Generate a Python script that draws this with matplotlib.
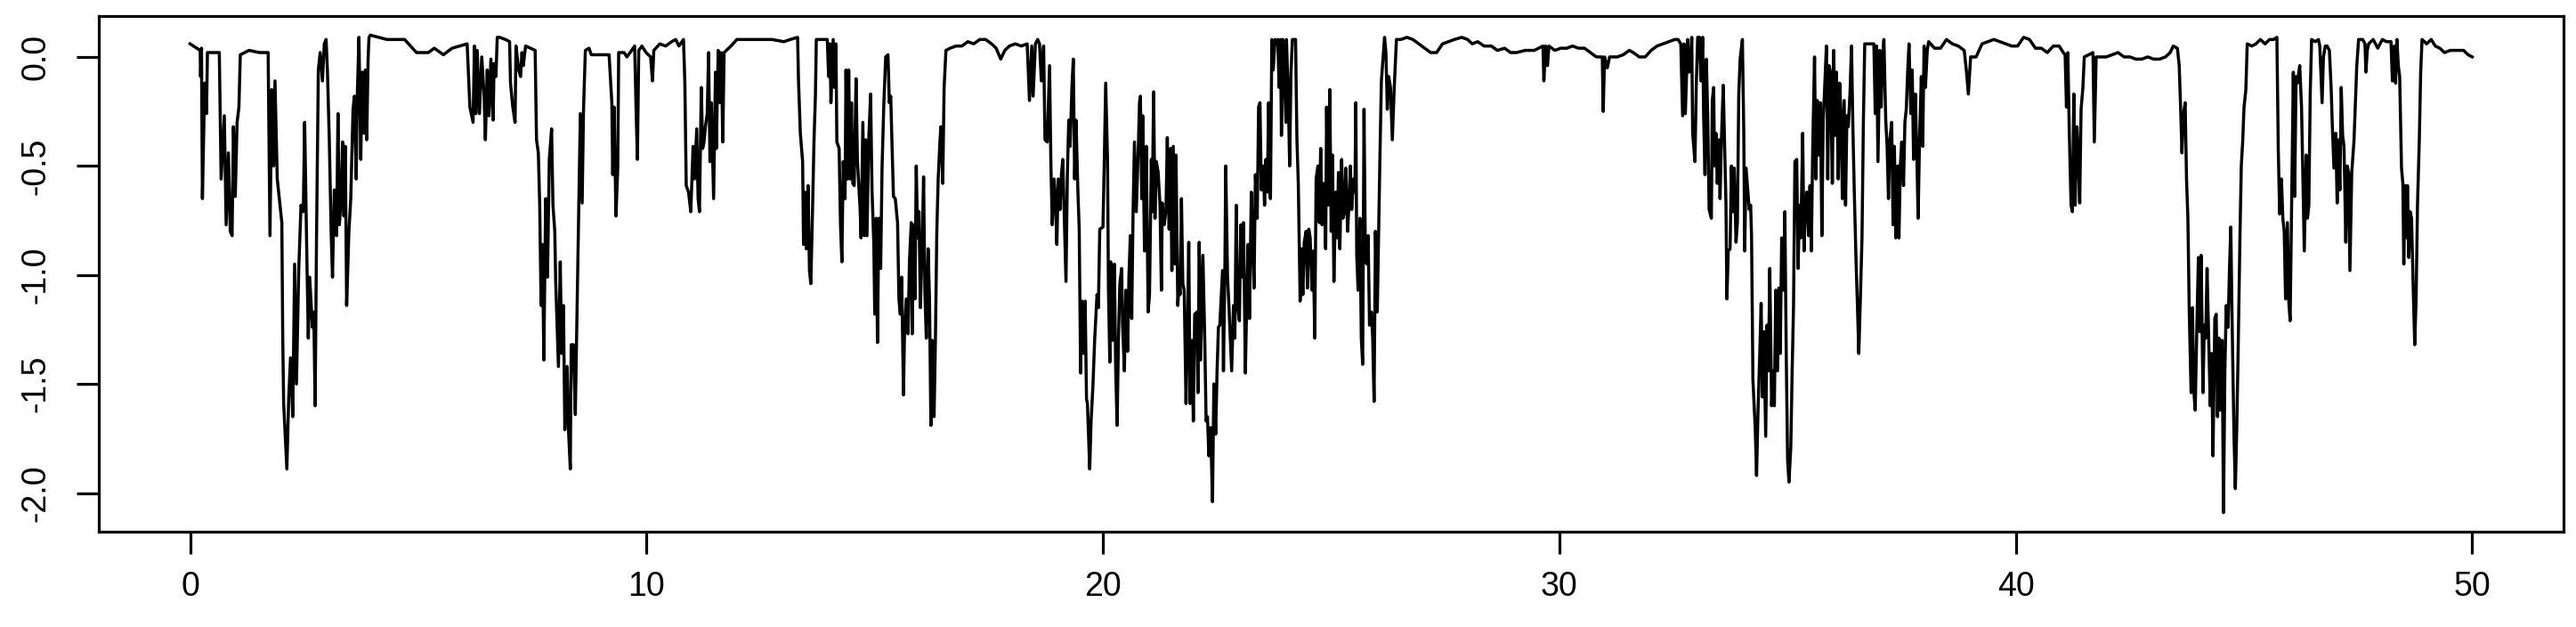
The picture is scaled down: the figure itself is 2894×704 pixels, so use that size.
import numpy as np
import matplotlib
matplotlib.use('Agg')
import matplotlib.pyplot as plt

plt.rcParams['font.family'] = ['Liberation Sans', 'DejaVu Sans']

# series, stretch by stretch (time, value)
tA = [0.00, 0.22, 0.23, 0.25, 0.27, 0.32, 0.36, 0.38, 0.50, 0.64,
      0.68, 0.75, 0.79, 0.84, 0.88, 0.92, 0.95, 0.99, 1.03, 1.07,
      1.10, 1.29, 1.52, 1.71, 1.75, 1.79, 1.83, 1.86, 1.91, 2.01,
      2.03, 2.05, 2.12, 2.16, 2.20, 2.25, 2.29, 2.33, 2.38, 2.43,
      2.48, 2.51, 2.56, 2.59, 2.62, 2.68, 2.71, 2.74, 2.77, 2.81,
      2.85, 2.90, 2.94, 2.98, 3.01, 3.05, 3.09, 3.12, 3.16, 3.21,
      3.24, 3.27, 3.31, 3.34, 3.37, 3.40, 3.43, 3.48, 3.52, 3.57,
      3.60, 3.64, 3.66, 3.70, 3.74, 3.77, 3.81, 3.84, 3.87, 3.90,
      3.92, 3.95, 4.31, 4.70, 4.83, 4.96, 5.22, 5.35, 5.55, 5.74,
      6.07, 6.13, 6.20, 6.23, 6.26, 6.29, 6.34, 6.39, 6.44, 6.47,
      6.51, 6.55, 6.59, 6.64, 6.66, 6.70, 6.73]
vA = [0.06, 0.03, -0.09, 0.04, -0.65, -0.12, -0.26, 0.02, 0.02, 0.02,
      -0.56, -0.27, -0.77, -0.44, -0.80, -0.82, -0.32, -0.64, -0.30, -0.23,
      0.01, 0.03, 0.02, 0.02, -0.82, -0.15, -0.50, -0.11, -0.56, -0.76,
      -1.29, -1.59, -1.89, -1.57, -1.38, -1.65, -0.95, -1.50, -0.98, -0.68,
      -0.71, -0.30, -0.94, -1.29, -1.01, -1.24, -1.17, -1.60, -0.83, -0.06,
      0.02, -0.11, 0.06, 0.08, -0.07, -0.38, -0.80, -1.01, -0.61, -0.82,
      -0.26, -0.77, -0.65, -0.39, -0.73, -0.41, -1.14, -0.80, -0.65, -0.24,
      -0.18, -0.56, -0.20, 0.09, -0.47, -0.07, -0.35, -0.06, -0.38, -0.01,
      0.09, 0.10, 0.08, 0.08, 0.05, 0.02, 0.02, 0.04, 0.01, 0.04,
      0.06, -0.23, -0.30, 0.05, -0.26, 0.03, -0.26, 0.00, -0.17, -0.38,
      -0.06, -0.27, -0.01, -0.29, -0.03, -0.09, 0.09]

tB = [6.78, 6.91, 7.00, 7.02, 7.07, 7.12, 7.14, 7.20, 7.24, 7.27,
      7.30, 7.35, 7.46, 7.56, 7.59, 7.63, 7.66, 7.69, 7.72, 7.75,
      7.79, 7.83, 7.87, 7.92, 7.95, 7.99, 8.01, 8.07, 8.11, 8.14,
      8.18, 8.21, 8.26, 8.29, 8.33, 8.35, 8.40, 8.44, 8.48, 8.52,
      8.55, 8.59, 8.62, 8.66, 8.74, 8.79, 8.99, 9.18, 9.24, 9.26,
      9.29, 9.33, 9.37, 9.39, 9.51, 9.57, 9.64, 9.74, 9.77, 9.80,
      9.83, 9.90, 9.99, 10.09, 10.13, 10.16, 10.29, 10.42, 10.55, 10.64,
      10.71, 10.81, 10.84, 10.87, 10.92, 10.97, 11.02, 11.05, 11.10, 11.13,
      11.16, 11.20, 11.23, 11.26, 11.29, 11.33, 11.36, 11.39, 11.42, 11.47,
      11.51, 11.53, 11.57, 11.61, 11.64, 11.67, 11.70, 11.75, 11.85, 11.98,
      12.24, 12.50, 12.75, 13.01]
vB = [0.09, 0.08, 0.07, -0.12, -0.23, -0.30, 0.05, -0.06, -0.09, 0.02,
      -0.04, 0.05, 0.04, 0.03, -0.38, -0.44, -0.68, -1.14, -0.86, -1.39,
      -0.65, -1.01, -0.47, -0.33, -0.68, -0.80, -1.03, -1.42, -0.94, -1.36,
      -1.14, -1.71, -1.42, -1.71, -1.89, -1.32, -1.32, -1.64, -1.14, -0.65,
      -0.26, -0.67, -0.24, 0.03, 0.04, 0.01, 0.01, 0.01, -0.21, -0.54,
      -0.23, -0.73, -0.51, 0.02, 0.02, 0.00, 0.02, 0.05, -0.23, -0.47,
      0.03, 0.05, 0.02, 0.00, -0.11, 0.03, 0.06, 0.05, 0.07, 0.08,
      0.05, 0.08, -0.12, -0.59, -0.62, -0.71, -0.41, -0.56, -0.33, -0.65,
      -0.71, -0.14, -0.42, -0.39, -0.32, -0.26, 0.02, -0.48, -0.21, -0.65,
      -0.07, -0.42, 0.03, -0.21, 0.02, -0.39, 0.02, 0.03, 0.05, 0.08,
      0.08, 0.08, 0.08, 0.07]

tC = [13.15, 13.31, 13.33, 13.37, 13.42, 13.44, 13.47, 13.50, 13.54, 13.57,
      13.60, 13.63, 13.67, 13.70, 13.72, 13.86, 13.96, 13.99, 14.02, 14.04,
      14.09, 14.12, 14.15, 14.17, 14.22, 14.25, 14.28, 14.31, 14.35, 14.37,
      14.40, 14.43, 14.46, 14.49, 14.52, 14.55, 14.59, 14.62, 14.65, 14.68,
      14.70, 14.74, 14.77, 14.80, 14.83, 14.87, 14.91, 14.94, 14.98, 15.00,
      15.03, 15.06, 15.09, 15.13, 15.16, 15.20, 15.24, 15.29, 15.32, 15.35,
      15.41, 15.45, 15.50, 15.53, 15.56, 15.59, 15.63, 15.65, 15.69, 15.73,
      15.76, 15.80, 15.82, 15.85, 15.88, 15.91, 15.94, 15.97, 16.00, 16.04,
      16.07, 16.10, 16.13, 16.17, 16.20, 16.23, 16.26, 16.30, 16.33, 16.36,
      16.39, 16.43, 16.45, 16.49, 16.52, 16.56, 16.65, 16.78, 16.91, 17.04,
      17.17, 17.30, 17.43, 17.56, 17.66, 17.76, 17.85, 17.95, 18.08, 18.21,
      18.34, 18.39, 18.44, 18.47, 18.52, 18.57, 18.61, 18.65, 18.70, 18.73,
      18.78, 18.83, 18.86, 18.89, 18.93, 18.96, 18.99, 19.02, 19.06, 19.09,
      19.12, 19.15, 19.19, 19.22, 19.25, 19.28, 19.32, 19.35, 19.38, 19.41,
      19.45, 19.48, 19.51, 19.54, 19.58, 19.61, 19.64]
vC = [0.08, 0.09, -0.11, -0.35, -0.48, -0.86, -0.62, -0.88, -0.59, -0.98,
      -1.04, -0.77, -0.38, -0.18, 0.08, 0.08, 0.08, -0.09, 0.06, -0.21,
      0.08, -0.14, 0.06, -0.39, -0.42, -0.77, -0.94, -0.48, -0.65, -0.06,
      -0.56, -0.06, -0.56, -0.21, -0.58, -0.59, -0.10, -0.47, -0.59, -0.70,
      -0.83, -0.30, -0.82, -0.38, -0.82, -0.37, -0.17, -0.61, -0.86, -1.18,
      -0.74, -1.31, -0.74, -0.97, -0.51, -0.21, 0.00, 0.01, -0.21, -0.18,
      -0.64, -0.65, -0.76, -1.11, -1.18, -1.01, -1.55, -1.29, -1.11, -1.27,
      -0.94, -0.76, -1.27, -0.77, -1.11, -0.50, -0.83, -0.71, -1.15, -0.86,
      -0.55, -1.09, -1.29, -0.88, -1.11, -1.69, -1.30, -1.65, -1.29, -0.80,
      -0.56, -0.38, -0.32, -0.58, -0.14, 0.03, 0.04, 0.05, 0.05, 0.07,
      0.06, 0.08, 0.08, 0.06, 0.04, -0.01, 0.03, 0.05, 0.06, 0.05,
      0.06, -0.20, 0.05, -0.18, 0.06, 0.08, 0.06, -0.11, 0.05, -0.38,
      -0.39, -0.04, -0.50, -0.77, -0.56, -0.65, -0.86, -0.56, -0.70, -0.54,
      -0.47, -0.71, -1.03, -0.54, -0.29, -0.41, -0.14, -0.01, -0.56, -0.29,
      -0.61, -0.79, -1.45, -1.12, -1.36, -1.12, -1.57]

tD = [19.66, 19.71, 19.74, 19.78, 19.82, 19.87, 19.90, 19.93, 20.00, 20.03,
      20.06, 20.10, 20.12, 20.15, 20.17, 20.21, 20.25, 20.28, 20.31, 20.34,
      20.37, 20.41, 20.43, 20.47, 20.50, 20.54, 20.57, 20.60, 20.63, 20.66,
      20.69, 20.73, 20.78, 20.80, 20.82, 20.85, 20.87, 20.91, 20.95, 20.99,
      21.02, 21.06, 21.08, 21.11, 21.14, 21.17, 21.21, 21.25, 21.28, 21.30,
      21.34, 21.38, 21.41, 21.45, 21.48, 21.51, 21.54, 21.58, 21.60, 21.64,
      21.67, 21.69, 21.72, 21.75, 21.78, 21.82, 21.85, 21.88, 21.91, 21.95,
      21.98, 22.01, 22.06, 22.08, 22.11, 22.14, 22.19, 22.23, 22.26, 22.29,
      22.32, 22.36, 22.40, 22.43, 22.47, 22.50, 22.53, 22.56, 22.62, 22.64,
      22.67, 22.69, 22.73, 22.76, 22.79, 22.82, 22.86, 22.89, 22.92, 22.95,
      22.99, 23.02, 23.05, 23.08, 23.12, 23.15, 23.18, 23.21, 23.25, 23.28,
      23.31, 23.34, 23.38, 23.41, 23.44, 23.47, 23.51, 23.54, 23.57, 23.60,
      23.63, 23.67, 23.70, 23.73, 23.77, 23.80, 23.83, 23.86, 23.89, 23.91,
      23.94, 23.98, 24.01, 24.02, 24.06, 24.09, 24.12, 24.15, 24.19, 24.22,
      24.25, 24.28, 24.32, 24.35, 24.38, 24.41, 24.45, 24.48, 24.51, 24.54,
      24.58, 24.61, 24.64, 24.67, 24.71, 24.74, 24.77, 24.80, 24.84, 24.88,
      24.90, 24.93, 24.97, 25.00, 25.03, 25.06, 25.10, 25.13, 25.16, 25.19,
      25.23, 25.26, 25.29, 25.32, 25.36, 25.39, 25.42, 25.45, 25.49, 25.52,
      25.54, 25.56, 25.59, 25.63, 25.66, 25.69, 25.72, 25.75, 25.78, 25.81,
      25.84, 25.88, 25.91, 25.94, 25.97, 26.01, 26.04, 26.07, 26.10, 26.17,
      26.20, 26.23, 26.26, 26.30, 26.34, 26.38, 26.43]
vD = [-1.59, -1.89, -1.67, -1.51, -1.29, -1.09, -1.15, -0.79, -0.78, -0.47,
      -0.12, -0.47, -1.06, -1.40, -0.94, -1.30, -0.95, -1.44, -1.69, -1.29,
      -1.04, -0.97, -1.23, -1.44, -1.07, -1.35, -1.00, -0.82, -1.20, -0.71,
      -0.39, -0.71, -0.38, -0.21, -0.18, -0.65, -0.27, -0.89, -0.41, -1.17,
      -1.09, -0.47, -0.71, -0.16, -0.74, -0.48, -0.53, -0.68, -1.07, -0.67,
      -0.77, -0.71, -0.37, -0.79, -0.42, -0.98, -0.41, -0.95, -0.45, -1.14,
      -1.03, -1.09, -0.65, -1.04, -1.07, -1.59, -1.27, -0.85, -1.59, -1.30,
      -1.67, -1.18, -1.17, -1.54, -0.85, -1.39, -0.91, -1.29, -1.67, -1.65,
      -1.83, -1.70, -2.04, -1.50, -1.73, -1.44, -1.24, -1.23, -0.98, -1.44,
      -1.00, -0.50, -1.01, -1.14, -1.29, -1.44, -1.14, -1.29, -0.68, -1.14,
      -1.21, -0.77, -1.01, -0.76, -1.45, -1.12, -0.86, -1.20, -0.62, -0.82,
      -1.06, -0.54, -0.74, -0.23, -0.21, -0.61, -0.50, -0.68, -0.47, -0.62,
      -0.21, -0.65, 0.08, -0.06, 0.08, 0.06, 0.08, -0.14, 0.08, -0.36,
      0.08, -0.12, -0.30, 0.08, -0.17, -0.50, -0.07, 0.08, 0.08, 0.08,
      -0.38, -0.58, -1.12, -0.88, -1.09, -0.85, -0.80, -1.06, -0.79, -0.83,
      -1.07, -0.89, -1.29, -0.56, -0.50, -0.76, -0.42, -0.77, -0.58, -0.88,
      -0.23, -0.68, -0.15, -0.80, -0.45, -1.03, -0.62, -0.83, -0.53, -0.88,
      -0.47, -0.74, -0.71, -0.51, -0.80, -0.68, -0.50, -0.70, -0.56, -0.62,
      -0.21, -0.91, -1.07, -0.74, -1.29, -1.41, -0.24, -0.92, -0.95, -0.82,
      -1.23, -1.17, -1.29, -1.58, -0.80, -1.17, -0.80, -0.44, -0.11, 0.09,
      0.02, -0.24, -0.09, -0.14, -0.38, -0.15, 0.08]

tE = [26.53, 26.66, 26.79, 26.92, 27.05, 27.18, 27.31, 27.44, 27.57, 27.70,
      27.86, 27.99, 28.09, 28.21, 28.35, 28.51, 28.64, 28.80, 28.93, 29.06,
      29.25, 29.45, 29.64, 29.66, 29.70, 29.74, 29.77, 29.90, 30.03, 30.16,
      30.29, 30.42, 30.55, 30.68, 30.81, 30.94, 30.96, 30.99, 31.05, 31.10,
      31.27, 31.40, 31.53, 31.62, 31.75, 31.88, 32.01, 32.14, 32.27, 32.40,
      32.53, 32.60, 32.66, 32.70, 32.73, 32.76, 32.81, 32.84, 32.87, 32.90,
      32.92, 32.97, 33.00, 33.03, 33.07, 33.10, 33.14, 33.16, 33.19, 33.22]
vE = [0.08, 0.09, 0.08, 0.06, 0.04, 0.02, 0.02, 0.06, 0.07, 0.08,
      0.09, 0.08, 0.06, 0.07, 0.05, 0.05, 0.03, 0.04, 0.02, 0.02,
      0.03, 0.03, 0.05, -0.11, 0.05, -0.04, 0.05, 0.03, 0.04, 0.04,
      0.05, 0.04, 0.04, 0.02, 0.00, 0.00, -0.25, 0.00, -0.05, 0.00,
      0.00, 0.01, 0.03, 0.02, 0.00, 0.00, 0.03, 0.05, 0.06, 0.07,
      0.08, 0.08, 0.06, -0.27, 0.06, -0.26, 0.08, -0.07, -0.04, 0.09,
      -0.35, -0.48, -0.12, 0.09, 0.09, -0.11, 0.09, -0.27, -0.54, -0.01]

tF = [33.25, 33.28, 33.33, 33.35, 33.38, 33.40, 33.43, 33.46, 33.50, 33.52,
      33.55, 33.59, 33.62, 33.65, 33.67, 33.70, 33.74, 33.77, 33.80, 33.83,
      33.87, 33.90, 33.93, 33.96, 34.01, 34.04, 34.06, 34.09, 34.13, 34.16,
      34.19, 34.21, 34.24, 34.29, 34.32, 34.35, 34.39, 34.42, 34.45, 34.48,
      34.52, 34.55, 34.58, 34.61, 34.65, 34.68, 34.71, 34.74, 34.78, 34.81,
      34.84, 34.87, 34.91, 34.94, 34.97, 35.00, 35.03, 35.07, 35.10, 35.13,
      35.16, 35.20, 35.23, 35.26, 35.29, 35.33, 35.36, 35.39, 35.42, 35.46,
      35.49, 35.52, 35.55, 35.59, 35.62, 35.65, 35.68, 35.72, 35.75, 35.78,
      35.81, 35.85, 35.88, 35.91, 35.94, 35.98, 36.01, 36.04, 36.07, 36.11,
      36.14, 36.17, 36.20, 36.24, 36.27, 36.30, 36.33, 36.37, 36.40, 36.43,
      36.46, 36.50, 36.53, 36.56, 36.59, 36.63, 36.66, 36.69, 36.79, 36.89,
      36.92, 36.95, 36.98, 37.02, 37.05, 37.08, 37.11, 37.15, 37.18, 37.21,
      37.24, 37.28, 37.31, 37.34, 37.37, 37.41, 37.44, 37.47, 37.50, 37.54,
      37.57, 37.60, 37.63, 37.66, 37.70, 37.73, 37.76, 37.80, 37.83, 37.86,
      37.89, 37.93, 37.96, 37.99, 38.02, 38.06, 38.09, 38.22, 38.35, 38.48,
      38.61, 38.74, 38.87, 38.92, 38.96, 39.01, 39.13, 39.26, 39.39, 39.52]
vF = [-0.27, -0.70, -0.74, -0.20, -0.14, -0.50, -0.35, -0.58, -0.38, -0.65,
      -0.38, -0.13, -0.41, -0.68, -1.11, -0.89, -0.88, -0.50, -0.71, -0.51,
      -0.85, -0.76, -0.17, -0.01, 0.08, -0.35, -0.89, -0.51, -0.62, -0.70,
      -0.68, -0.82, -1.48, -1.70, -1.92, -1.64, -1.36, -1.13, -1.56, -1.26,
      -1.74, -1.23, -1.44, -0.97, -1.60, -1.44, -1.60, -1.07, -1.44, -1.06,
      -1.36, -0.83, -1.07, -0.71, -1.36, -1.85, -1.95, -1.79, -1.44, -1.14,
      -0.48, -0.47, -0.97, -0.68, -0.83, -0.35, -0.89, -0.68, -0.62, -0.82,
      -0.59, -0.89, -0.42, 0.00, -0.56, -0.20, -0.45, -0.21, -0.82, -0.29,
      -0.15, 0.05, -0.56, -0.04, -0.07, -0.58, 0.03, -0.36, -0.07, -0.56,
      -0.12, -0.26, -0.65, -0.20, -0.68, -0.27, -0.32, -0.15, 0.05, -0.32,
      -0.61, -0.94, -1.14, -1.36, -1.14, -0.83, -0.30, 0.06, 0.06, 0.06,
      -0.26, 0.05, -0.48, 0.03, -0.23, -0.01, 0.08, -0.29, -0.41, -0.65,
      -0.38, -0.30, -0.77, -0.41, -0.83, -0.50, -0.83, -0.50, -0.39, -0.59,
      -0.30, -0.24, -0.07, 0.06, -0.26, -0.06, -0.47, -0.17, -0.44, -0.74,
      -0.38, -0.09, -0.41, 0.05, -0.14, 0.03, 0.07, 0.04, 0.04, 0.08,
      0.06, 0.05, 0.03, -0.07, -0.17, 0.00, 0.00, 0.06, 0.07, 0.08]

tG = [39.65, 39.78, 39.91, 40.04, 40.17, 40.30, 40.43, 40.56, 40.69, 40.82,
      40.95, 41.04, 41.08, 41.11, 41.14, 41.17, 41.21, 41.24, 41.27, 41.30,
      41.34, 41.37, 41.40, 41.43, 41.47, 41.50, 41.60, 41.69, 41.72, 41.76,
      41.85, 41.98, 42.11, 42.24, 42.37, 42.50, 42.63, 42.76, 42.89, 43.02,
      43.15, 43.28, 43.38, 43.45, 43.54, 43.58, 43.61, 43.64, 43.67, 43.71,
      43.74, 43.77, 43.80, 43.84, 43.87, 43.90, 43.93, 43.97, 44.00, 44.03,
      44.06, 44.10, 44.13, 44.16, 44.19, 44.23, 44.26, 44.29, 44.32, 44.36,
      44.39, 44.42, 44.45, 44.48, 44.52, 44.55, 44.58, 44.61, 44.65, 44.68,
      44.71, 44.74, 44.78, 44.81, 44.84, 44.87, 44.91, 44.94, 44.97, 45.00,
      45.04, 45.07, 45.17, 45.26, 45.36, 45.46, 45.56, 45.65, 45.72, 45.75,
      45.78, 45.82, 45.85, 45.88, 45.91, 45.95, 45.98, 46.01, 46.04, 46.08,
      46.11, 46.14]
vG = [0.07, 0.06, 0.05, 0.05, 0.09, 0.08, 0.04, 0.04, 0.02, 0.05,
      0.05, 0.02, 0.01, -0.23, 0.02, -0.33, -0.68, -0.71, -0.17, -0.68,
      -0.32, -0.47, -0.67, -0.24, -0.14, 0.00, 0.01, 0.02, -0.39, 0.00,
      0.00, 0.00, 0.01, 0.02, 0.00, 0.00, -0.01, -0.01, 0.00, -0.01,
      -0.01, 0.00, 0.02, 0.05, 0.04, -0.04, -0.23, -0.44, -0.27, -0.21,
      -0.56, -0.74, -1.17, -1.54, -1.15, -1.53, -1.62, -1.20, -0.92, -1.26,
      -0.91, -1.54, -1.23, -1.29, -0.97, -1.33, -1.60, -1.36, -1.83, -1.20,
      -1.18, -1.65, -1.29, -1.62, -1.30, -2.09, -1.44, -1.14, -1.24, -0.98,
      -0.78, -1.23, -1.74, -1.98, -1.71, -1.36, -0.83, -0.50, -0.39, -0.23,
      -0.15, 0.06, 0.05, 0.06, 0.08, 0.06, 0.08, 0.08, 0.09, -0.42,
      -0.72, -0.56, -0.74, -0.80, -1.11, -0.76, -1.12, -1.21, -0.71, -0.07,
      -0.64, -0.09]

tH = [46.17, 46.22, 46.26, 46.28, 46.32, 46.36, 46.39, 46.42, 46.45, 46.48,
      46.56, 46.63, 46.66, 46.71, 46.74, 46.78, 46.82, 46.87, 46.91, 46.93,
      46.97, 47.01, 47.04, 47.07, 47.10, 47.13, 47.16, 47.19, 47.23, 47.26,
      47.29, 47.32, 47.36, 47.41, 47.44, 47.47, 47.51, 47.60, 47.65, 47.67,
      47.70, 47.73, 47.83, 47.93, 48.03, 48.12, 48.22, 48.25, 48.29, 48.32,
      48.35, 48.38, 48.41, 48.45, 48.48, 48.50, 48.53, 48.56, 48.58, 48.61,
      48.64, 48.67, 48.71, 48.74, 48.77, 48.80, 48.84, 48.87, 48.90, 49.00,
      49.10, 49.19, 49.29, 49.39, 49.52, 49.68, 49.81, 49.91, 50.00]
vH = [-0.12, -0.04, -0.23, -0.45, -0.89, -0.45, -0.74, -0.68, -0.17, 0.08,
      0.07, 0.08, 0.05, -0.21, 0.00, 0.05, 0.05, 0.03, -0.15, -0.29,
      -0.51, -0.35, -0.67, -0.38, -0.61, -0.14, -0.36, -0.41, -0.85, -0.50,
      -0.53, -0.98, -0.53, -0.38, -0.21, -0.04, 0.08, 0.08, 0.06, -0.07,
      0.03, 0.06, 0.08, 0.04, 0.08, 0.07, 0.07, -0.11, 0.05, -0.12,
      0.08, -0.04, -0.09, -0.51, -0.58, -0.95, -0.59, -0.83, -0.59, -0.92,
      -0.71, -0.74, -1.09, -1.32, -1.11, -0.68, -0.38, -0.07, 0.08, 0.06,
      0.08, 0.05, 0.04, 0.02, 0.03, 0.03, 0.03, 0.01, 0.00]

x_ticks = [0, 10, 20, 30, 40, 50]
y_ticks = [0.0, -0.5, -1.0, -1.5, -2.0]
y_tick_labels = ['0.0', '-0.5', '-1.0', '-1.5', '-2.0']

t = np.concatenate([tA, tB, tC, tD, tE, tF, tG, tH])
v = np.concatenate([vA, vB, vC, vD, vE, vF, vG, vH])

W, H = 2894, 704
fig = plt.figure(figsize=(W / 100, H / 100), dpi=100)
ax = fig.add_axes([111 / W, 1 - 597 / H, (2880 - 111) / W, (597 - 18) / H])

ax.plot(t, v, color='black', lw=2.5)

# R style axis range: data range stretched by 4% each side
xpad = 0.04 * (t.max() - t.min())
ax.set_xlim(t.min() - xpad, t.max() + xpad)
ypad = 0.04 * (v.max() - v.min())
ax.set_ylim(v.min() - ypad, v.max() + ypad)

ax.set_xticks(x_ticks)
ax.set_xticklabels([str(x) for x in x_ticks])
ax.set_yticks(y_ticks)
ax.set_yticklabels(y_tick_labels)
plt.setp(ax.get_yticklabels(), rotation=90, va='center')

for s in ax.spines.values():
    s.set_linewidth(2.3)
ax.tick_params(axis='both', direction='out', length=18, width=2.3,
               labelsize=27, colors='black')
ax.tick_params(axis='x', pad=14)
ax.tick_params(axis='y', pad=20)

fig.savefig('out.png', dpi=100, facecolor='white')
